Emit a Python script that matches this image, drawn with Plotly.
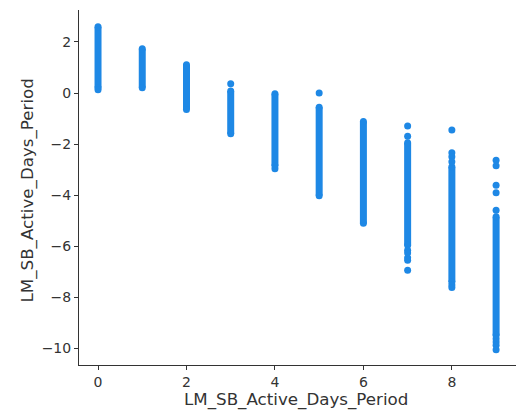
import plotly.graph_objects as go

# Feature values (x) and SHAP-value ranges
feature_values = [0, 1, 2, 3, 4, 5, 6, 7, 8, 9]
dense_low = [0.21, 0.21, -0.65, -1.60, -2.85, -4.02, -5.10, -5.96, -7.40, -9.49]
dense_high = [2.59, 1.73, 1.11, 0.08, -0.03, -0.56, -1.12, -1.95, -2.89, -4.85]

# Isolated points outside the dense strips
outlier_x = [0, 3, 4, 5,
             7, 7, 7, 7, 7, 7, 7,
             8, 8, 8, 8, 8, 8,
             9, 9, 9, 9, 9, 9, 9, 9, 9]
outlier_y = [0.13, 0.36, -2.97, 0.00,
             -1.29, -1.69, -6.16, -6.26, -6.45, -6.55, -6.94,
             -1.45, -2.34, -2.50, -2.69, -7.52, -7.62,
             -2.63, -2.85, -3.61, -3.91, -4.59, -9.62, -9.75, -9.88, -10.05]

x_ticks = [0, 2, 4, 6, 8]
y_ticks = [-10, -8, -6, -4, -2, 0, 2]
feature_name = "LM_SB_Active_Days_Period"

COLOR = "#1E88E5"
AX = "#333333"

seg_x, seg_y = [], []
for xv, lo, hi in zip(feature_values, dense_low, dense_high):
    seg_x += [xv, xv, None]
    seg_y += [lo, hi, None]

fig = go.Figure()
fig.add_trace(go.Scatter(x=seg_x, y=seg_y, mode="lines+markers",
                         line=dict(color=COLOR, width=7),
                         marker=dict(color=COLOR, size=7),
                         hoverinfo="skip", showlegend=False))
fig.add_trace(go.Scatter(x=outlier_x, y=outlier_y, mode="markers",
                         marker=dict(color=COLOR, size=7, line=dict(width=0)),
                         showlegend=False))

W, H = 516, 414
L, R, T, B = 79, 0, 10, 49
pw, ph = W - L - R, H - T - B

fig.update_layout(
    width=W, height=H,
    margin=dict(l=L, r=R, t=T, b=B, pad=0),
    plot_bgcolor="white", paper_bgcolor="white",
    font=dict(family="DejaVu Sans", color=AX, size=14),
    xaxis=dict(range=[-0.43, 9.45], tickvals=x_ticks, showgrid=False, zeroline=False,
               showline=True, linecolor=AX, linewidth=1, ticks="outside",
               ticklen=4, tickwidth=1, tickcolor=AX, tickfont=dict(size=14, color=AX)),
    yaxis=dict(range=[-10.65, 3.25], tickvals=y_ticks, showgrid=False, zeroline=False,
               showline=True, linecolor=AX, linewidth=1, ticks="outside",
               ticklen=4, tickwidth=1, tickcolor=AX, tickfont=dict(size=14, color=AX)),
    annotations=[
        dict(text=feature_name, xref="paper", yref="paper",
             x=(296 - L) / pw, y=(H - B - 399) / ph, xanchor="center", yanchor="middle",
             showarrow=False, font=dict(size=16.7, color=AX)),
        dict(text=feature_name, xref="paper", yref="paper", textangle=-90,
             x=(27 - L) / pw, y=(H - B - 190.5) / ph, xanchor="center", yanchor="middle",
             showarrow=False, font=dict(size=16.7, color=AX)),
    ],
)

fig.write_html("out.html")
